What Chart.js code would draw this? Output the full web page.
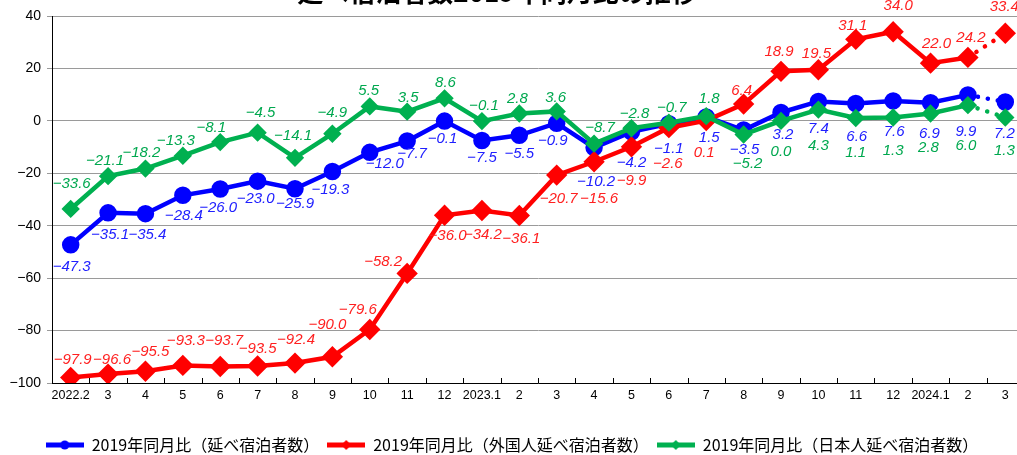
<!DOCTYPE html>
<html>
<head>
<meta charset="utf-8">
<script src="https://cdn.jsdelivr.net/npm/chart.js@4/dist/chart.umd.min.js"></script>
<style>
    html, body { margin: 0; padding: 0; background: #fff; overflow: hidden; width: 1017px; height: 455px; }
    #wrap { position: absolute; left: 0; top: -20px; width: 1030px; height: 489px; }
</style>
</head>
<body>
<div id="wrap"><canvas id="chartYoY" width="1030" height="489"></canvas></div>
<script>
const titleText = '延べ宿泊者数2019年同月比の推移';

const months = ['2022.2', '3', '4', '5', '6', '7', '8', '9', '10', '11', '12',
    '2023.1', '2', '3', '4', '5', '6', '7', '8', '9', '10', '11', '12',
    '2024.1', '2', '3'];

// 2019年同月比（%）
const totalYoY = [-47.3, -35.1, -35.4, -28.4, -26.0, -23.0, -25.9, -19.3, -12.0, -7.7, -0.1,
    -7.5, -5.5, -0.9, -10.2, -4.2, -1.1, 1.5, -3.5, 3.2, 7.4, 6.6, 7.6, 6.9, 9.9, 7.2];
const foreignYoY = [-97.9, -96.6, -95.5, -93.3, -93.7, -93.5, -92.4, -90.0, -79.6, -58.2, -36.0,
    -34.2, -36.1, -20.7, -15.6, -9.9, -2.6, 0.1, 6.4, 18.9, 19.5, 31.1, 34.0, 22.0, 24.2, 33.4];
const japaneseYoY = [-33.6, -21.1, -18.2, -13.3, -8.1, -4.5, -14.1, -4.9, 5.5, 3.5, 8.6,
    -0.1, 2.8, 3.6, -8.7, -2.8, -0.7, 1.8, -5.2, 0.0, 4.3, 1.1, 1.3, 2.8, 6.0, 1.3];

// ラベル位置（点からのずれ px）
const totalLabelPos = [[1,22],[2,22],[2,21],[1,21],[-2,19],[-2,18],[0,15],[-2,18],[15,12],[5,13],[-2,18],
    [0,17],[0,19],[-4,18],[2,34],[0,31],[0,25],[3,21],[1,20],[2,22],[0,27],[1,33],[1,31],[-1,31],[-2,37],[-1,32]];
const foreignLabelPos = [[2,-18],[4,-14],[5,-19],[3,-25],[4,-26],[0,-17],[1,-23],[-5,-32],[-12,-20],[-24,-12],[3,21],
    [1,24],[2,23],[2,24],[5,37],[0,34],[-1,36],[-2,32],[-2,-13],[-2,-19],[-2,-16],[-3,-14],[5,-26],[6,-19],[3,-20],[-1,-26]];
const japaneseLabelPos = [[1,-25],[-3,-15],[-4,-16],[-7,-15],[-9,-14],[3,-20],[-2,-22],[0,-21],[-1,-16],[1,-14],[1,-15],
    [2,-15],[-2,-15],[-1,-14],[6,-16],[3,-14],[3,-15],[3,-17],[4,29],[0,31],[0,36],[0,35],[0,33],[-2,34],[-2,41],[-1,33]];

const BLUE = '#0000ff', RED = '#ff0000', GREEN = '#00b050';
const last = months.length - 1;

const fmt = (v) => (v < 0 ? '\u2212' + Math.abs(v).toFixed(1) : v.toFixed(1));

function legendIcon(color, style) {
    const c = document.createElement('canvas');
    c.width = 38; c.height = 12;
    const g = c.getContext('2d');
    g.strokeStyle = color; g.lineWidth = 5;
    g.beginPath(); g.moveTo(0, 6); g.lineTo(38, 6); g.stroke();
    g.fillStyle = color;
    g.beginPath();
    if (style === 'circle') g.arc(19, 6, 4.5, 0, Math.PI * 2);
    else { g.moveTo(19, 1); g.lineTo(24, 6); g.lineTo(19, 11); g.lineTo(14, 6); g.closePath(); }
    g.fill();
    return c;
}

const dotted = {
    borderDash: ctx => ctx.p1DataIndex === last ? [0.1, 10] : undefined,
    borderCapStyle: ctx => ctx.p1DataIndex === last ? 'round' : 'butt'
};

const cutTitle = {
    id: 'cutTitle',
    afterDraw(chart) {
        const g = chart.ctx;
        g.save();
        g.font = 'bold 26px "Noto Sans CJK JP"';
        g.fillStyle = '#000';
        g.textAlign = 'center';
        g.textBaseline = 'alphabetic';
        g.fillText(titleText, 497, 22);
        g.restore();
    }
};

// x軸の内向き目盛
const innerTicks = {
    id: 'innerTicks',
    afterDraw(chart) {
        const { ctx, chartArea, scales: { x } } = chart;
        const half = (x.getPixelForValue(1) - x.getPixelForValue(0)) / 2;
        ctx.save();
        ctx.strokeStyle = '#000';
        ctx.lineWidth = 1;
        ctx.beginPath();
        for (let i = 0; i < months.length; i++) {
            const px = Math.round(x.getPixelForValue(i) + half) + 0.5;
            ctx.moveTo(px, chartArea.bottom);
            ctx.lineTo(px, chartArea.bottom - 5);
        }
        ctx.stroke();
        ctx.restore();
    }
};

const valueLabels = {
    id: 'valueLabels',
    afterDatasetsDraw(chart) {
        const ctx = chart.ctx;
        ctx.save();
        ctx.font = 'italic 15px "Liberation Sans"';
        ctx.textAlign = 'center';
        ctx.textBaseline = 'middle';
        chart.data.datasets.forEach((ds, di) => {
            const meta = chart.getDatasetMeta(di);
            ctx.fillStyle = ds.labelColor;
            meta.data.forEach((pt, i) => {
                const [dx, dy] = ds.labelPos[i];
                ctx.fillText(fmt(ds.data[i]), pt.x + dx, pt.y + dy);
            });
        });
        ctx.restore();
    }
};

const ctxYoY = document.getElementById('chartYoY').getContext('2d');

new Chart(ctxYoY, {
    type: 'line',
    data: {
        labels: months,
        datasets: [
            {
                label: '2019年同月比（延べ宿泊者数）',
                data: totalYoY,
                borderColor: BLUE, backgroundColor: BLUE,
                borderWidth: 4.5,
                pointStyle: 'circle', pointRadius: 6.5,
                labelColor: '#2020ff', labelPos: totalLabelPos,
                icon: legendIcon(BLUE, 'circle'),
                segment: dotted,
                order: 3
            },
            {
                label: '2019年同月比（外国人延べ宿泊者数）',
                data: foreignYoY,
                borderColor: RED, backgroundColor: RED,
                borderWidth: 4.5,
                pointStyle: 'rectRot', pointRadius: 7.5,
                labelColor: '#ff2020', labelPos: foreignLabelPos,
                icon: legendIcon(RED, 'diamond'),
                segment: dotted,
                order: 2
            },
            {
                label: '2019年同月比（日本人延べ宿泊者数）',
                data: japaneseYoY,
                borderColor: GREEN, backgroundColor: GREEN,
                borderWidth: 4.5,
                pointStyle: 'rectRot', pointRadius: 6,
                labelColor: '#00a84f', labelPos: japaneseLabelPos,
                icon: legendIcon(GREEN, 'diamond'),
                segment: dotted,
                order: 1
            }
        ]
    },
    options: {
        responsive: false,
        animation: false,
        layout: { autoPadding: false, padding: { top: 36, right: 6, left: 0, bottom: 6 } },
        elements: { line: { tension: 0 } },
        plugins: {
            tooltip: { enabled: false },
            legend: {
                position: 'bottom',
                labels: {
                    usePointStyle: true,
                    pointStyleWidth: 38,
                    padding: 8,
                    color: '#000',
                    font: { size: 16, family: '"Noto Sans CJK JP"' },
                    sort: (a, b) => a.datasetIndex - b.datasetIndex,
                    generateLabels: (chart) => Chart.defaults.plugins.legend.labels.generateLabels(chart)
                        .map(item => ({ ...item, pointStyle: chart.data.datasets[item.datasetIndex].icon }))
                }
            }
        },
        scales: {
            x: {
                offset: true,
                afterFit: (scale) => { scale.height += 21; },
                grid: { drawOnChartArea: false, drawTicks: false },
                border: { color: '#000', width: 1 },
                ticks: {
                    autoSkip: false, maxRotation: 0, padding: 5, color: '#000',
                    font: { size: 12.5, family: '"Liberation Sans"' }
                }
            },
            y: {
                min: -100, max: 40,
                afterFit: (scale) => { scale.width = 52; },
                grid: { color: '#9a9a9a', lineWidth: 1, tickLength: 5 },
                border: { color: '#000', width: 1 },
                ticks: {
                    stepSize: 20, padding: 6, color: '#000',
                    font: { size: 14, family: '"Liberation Sans"' },
                    callback: v => (v < 0 ? '\u2212' + Math.abs(v) : v)
                }
            }
        }
    },
    plugins: [cutTitle, innerTicks, valueLabels]
});
</script>
</body>
</html>
